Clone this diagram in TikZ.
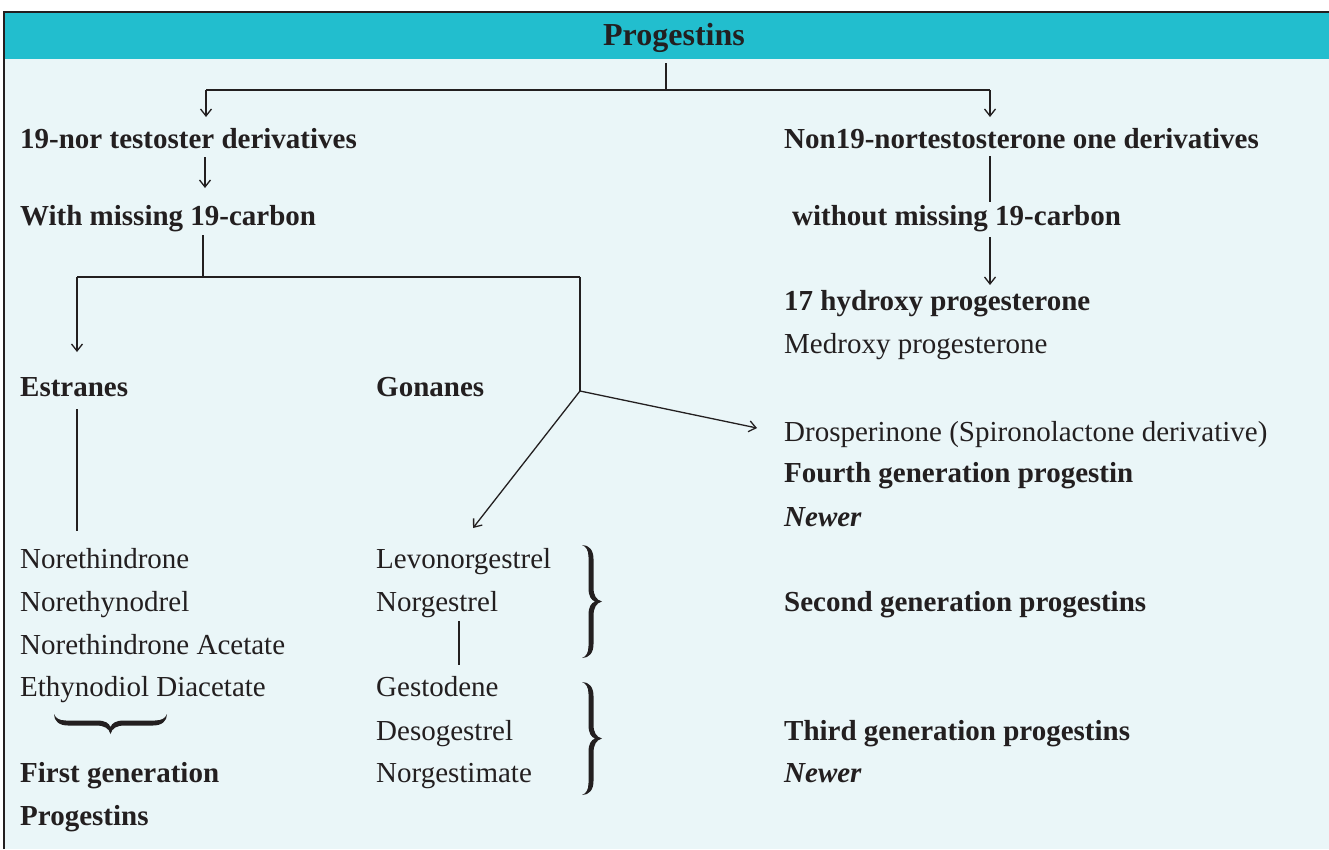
\documentclass[tikz,border=0pt]{standalone}
\usepackage{fontspec}
\setmainfont{Liberation Serif}
\usetikzlibrary{arrows.meta}
\definecolor{headteal}{HTML}{22BECE}
\definecolor{bodybg}{HTML}{EAF6F8}
\definecolor{ink}{HTML}{231F20}
\begin{document}
\begin{tikzpicture}[x=1pt,y=-1pt,
  txt/.style={anchor=base west,inner sep=0pt,text=ink,font=\fontsize{29}{34}\selectfont},
  bold/.style={txt,font=\fontsize{29}{34}\selectfont\bfseries},
  bolditalic/.style={txt,font=\fontsize{29}{34}\selectfont\bfseries\itshape},
  link/.style={line width=1.3pt,draw=ink},
  arr/.style={link,-{Straight Barb[length=7pt,width=11pt]}},
  % a tapered curly brace, 113 long, its point 20 to the side
  gbrace/.pic={
    \fill[ink] (0,0) .. controls (7,0) and (11.5,5) .. (11.5,14) -- (11.5,42.5)
      .. controls (11.5,50) and (14,55) .. (20,56.5)
      .. controls (14,58) and (11.5,63) .. (11.5,71) -- (11.5,99)
      .. controls (11.5,108) and (7,113) .. (0,113)
      .. controls (4,111.5) and (6.5,108) .. (6.5,101) -- (6.5,70)
      .. controls (6.5,62) and (9,58) .. (13,56.5)
      .. controls (9,55) and (6.5,51) .. (6.5,43) -- (6.5,12)
      .. controls (6.5,5) and (4,1.5) .. (0,0) -- cycle;
  }]
\useasboundingbox (0,0) rectangle (1329,849);

% panel background, header band and frame
\fill[bodybg] (4,12) rectangle (1329,849);
\fill[headteal] (4,12) rectangle (1329,59);
\draw[line width=1.5pt,draw=ink] (4,849) -- (4,12) -- (1329,12);

% texts
\node[anchor=base,inner sep=0pt,text=ink,font=\fontsize{32}{36}\selectfont\bfseries] (title) at (674,45) {Progestins};
\node[bold] (nor) at (20,148) {19-nor testoster derivatives};
\node[bold] (non) at (784,148) {Non19-nortestosterone one derivatives};
\node[bold] (with) at (20,225) {With missing 19-carbon};
\node[bold] (without) at (792,225) {without missing 19-carbon};
\node[bold] (hydroxy) at (784,310) {17 hydroxy progesterone};
\node[txt] (medroxy) at (784,353) {Medroxy progesterone};
\node[bold] (estranes) at (20,396) {Estranes};
\node[bold] (gonanes) at (376,396) {Gonanes};
\node[txt] (drosp) at (784,441) {Drosperinone (Spironolactone derivative)};
\node[bold] (fourth) at (784,482) {Fourth generation progestin};
\node[bolditalic] (newerA) at (784,526) {Newer};
\node[txt] (noreth) at (20,568) {Norethindrone};
\node[txt] (levo) at (376,568) {Levonorgestrel};
\node[txt] (norethyn) at (20,611) {Norethynodrel};
\node[txt] (norg) at (376,611) {Norgestrel};
\node[bold] (second) at (784,611) {Second generation progestins};
\node[txt] (acet) at (20,654) {Norethindrone Acetate};
\node[txt] (ethyn) at (20,696) {Ethynodiol Diacetate};
\node[txt] (gesto) at (376,696) {Gestodene};
\node[txt] (deso) at (376,740) {Desogestrel};
\node[bold] (third) at (784,740) {Third generation progestins};
\node[bold] (first) at (20,782) {First generation};
\node[txt] (norgest) at (376,782) {Norgestimate};
\node[bolditalic] (newerB) at (784,782) {Newer};
\node[bold] (firstb) at (20,825) {Progestins};

% junctions and line ends
\coordinate (tstem) at (666,63);
\coordinate (tsplit) at (666,90);
\coordinate (tL) at (206,90);
\coordinate (tR) at (990,90);
\coordinate (tLend) at (206,117);
\coordinate (tRend) at (990,117);
\coordinate (norA) at (205,157);
\coordinate (norB) at (205,188);
\coordinate (withA) at (203,235);
\coordinate (withB) at (203,277);
\coordinate (barL) at (77,277);
\coordinate (barR) at (580,277);
\coordinate (estTip) at (77,352);
\coordinate (fork) at (580,391);
\coordinate (levoTip) at (473,528);
\coordinate (drosTip) at (757,428);
\coordinate (estA) at (77,409);
\coordinate (estB) at (77,531);
\coordinate (norgA) at (459,621);
\coordinate (norgB) at (459,665);
\coordinate (nonA) at (990,156);
\coordinate (nonB) at (990,202);
\coordinate (woA) at (990,237);
\coordinate (woB) at (990,285);

% connectors
\draw[link] (tstem) -- (tsplit);
\draw[link] (tL) -- (tR);
\draw[arr] (tL) -- (tLend);
\draw[arr] (tR) -- (tRend);
\draw[arr] (norA) -- (norB);
\draw[link] (withA) -- (withB);
\draw[link] (barL) -- (barR);
\draw[arr] (barL) -- (estTip);
\draw[link] (barR) -- (fork);
\draw[arr] (fork) -- (levoTip);
\draw[arr] (fork) -- (drosTip);
\draw[link] (estA) -- (estB);
\draw[link] (norgA) -- (norgB);
\draw[link] (nonA) -- (nonB);
\draw[arr] (woA) -- (woB);

% braces grouping the generations
\pic at (582,545) {gbrace};
\pic at (582,682) {gbrace};
\pic[rotate=-90] at (167,714) {gbrace};
\end{tikzpicture}
\end{document}
